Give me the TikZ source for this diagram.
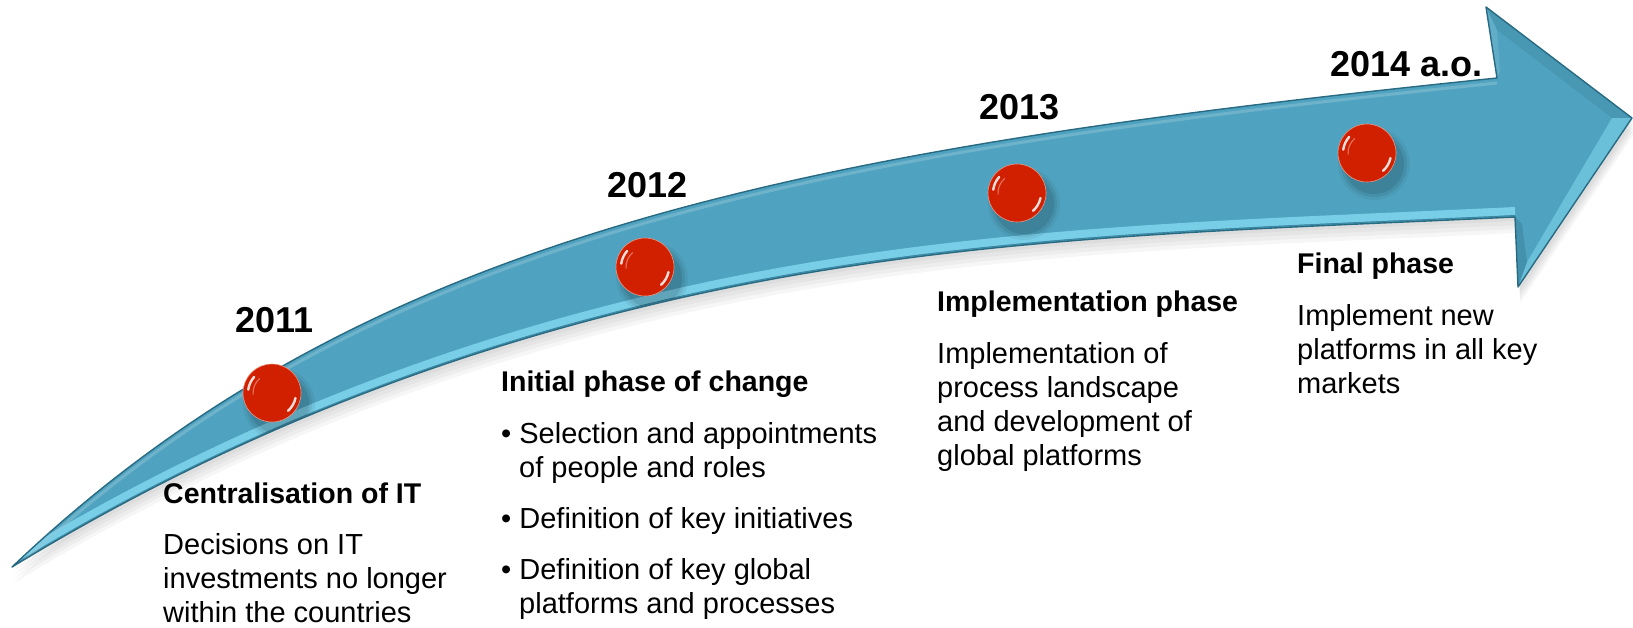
\documentclass[tikz,border=0pt]{standalone}
\usepackage{fontspec}
\setmainfont{Liberation Sans}
\definecolor{arrowmain}{RGB}{80,163,192}
\definecolor{arrowdark}{RGB}{40,106,130}
\definecolor{arrowlight}{RGB}{128,214,238}
\definecolor{ballred}{RGB}{208,32,0}
\definecolor{ballrim}{RGB}{236,150,130}
\tikzset{
  topcurve/.style={insert path={.. controls (362,234) and (795,150) .. (1497,78)}},
  botcurve/.style={insert path={.. controls (1223,231) and (940,235) .. (650,305) .. controls (437,356) and (225,437) .. (12,567)}},
  arrowpath/.style={insert path={[topcurve] -- (1486,7) -- (1632,118) -- (1518,287) -- (1515,217) [botcurve] -- cycle}},
  yearlbl/.style={font=\fontsize{36}{40}\selectfont\bfseries, anchor=base west, inner sep=0pt},
  ttl/.style={font=\fontsize{28.5}{34}\selectfont\bfseries, anchor=base west, inner sep=0pt},
  bdy/.style={font=\fontsize{29}{34}\selectfont, anchor=base west, inner sep=0pt},
  ball/.style={circle, minimum size=58pt, inner sep=0pt, fill=ballred, draw=ballrim, line width=0.6pt,
    path picture={
      \draw[white, opacity=0.85, line width=2.4pt, line cap=round]
        ([shift={(-172:24)}]path picture bounding box.center) arc (-172:-138:24);
      \draw[white, opacity=0.85, line width=2.4pt, line cap=round]
        ([shift={(12:24)}]path picture bounding box.center) arc (12:48:24);
      \draw[white, opacity=0.35, line width=1.2pt]
        ([shift={(-185:19)}]path picture bounding box.center) arc (-185:-130:19);
    }},
}
\begin{document}
\begin{tikzpicture}[x=1pt,y=-1pt]
\useasboundingbox (0,0) rectangle (1633,627);
% soft shadow under the arrow
\foreach \s in {4,8,12,16}
  \fill[black, opacity=0.035, shift={(2,\s)}] (12,567) [arrowpath];
% arrow body
\fill[arrowmain] (12,567) [arrowpath];
\begin{scope}
  \clip (12,567) [arrowpath];
  \draw[arrowlight, opacity=0.85, line width=8pt, shift={(0,-6)}] (1515,217) [botcurve];
  \draw[arrowdark, opacity=0.5, line width=1pt, shift={(0,-1.5)}] (1515,217) [botcurve];
  \draw[arrowmain!60!white, opacity=0.45, line width=3pt, shift={(0,5)}] (12,567) [topcurve];
  % head bevel
  \fill[arrowdark, opacity=0.18] (1486,7) -- (1632,118) -- (1612,118) -- (1497,30) -- cycle;
  \fill[arrowlight, opacity=0.55] (1632,118) -- (1518,287) -- (1527,262) -- (1612,118) -- cycle;
  \fill[arrowdark, opacity=0.3] (1515,217) -- (1518,287) -- (1527,262) -- (1522,224) -- cycle;
  \fill[arrowmain!80!white, opacity=0.5] (1486,7) -- (1497,30) -- (1500,72) -- (1497,78) -- cycle;
  % ball shadows
  \foreach \p in {(272,393),(645,267),(1017,193),(1367,153)}
    \foreach \r/\o in {36/0.05, 33/0.07, 30/0.09}
      \fill[black, opacity=\o] \p ++(7,11) circle (\r);
\end{scope}
\draw[arrowdark, line width=1.4pt, line join=round] (12,567) [arrowpath];
% balls
\node[ball] (b1) at (272,393) {};
\node[ball] (b2) at (645,267) {};
\node[ball] (b3) at (1017,193) {};
\node[ball] (b4) at (1367,153) {};
% years
\node[yearlbl] (y1) at (235,332) {2011};
\node[yearlbl] (y2) at (607,197) {2012};
\node[yearlbl] (y3) at (979,119) {2013};
\node[yearlbl] (y4) at (1330,76) {2014 a.o.};
% block 1
\node[ttl] (c1) at (163,503) {Centralisation of IT};
\node[bdy] (c1a) at (163,554) {Decisions on IT};
\node[bdy] (c1b) at (163,588) {investments no longer};
\node[bdy] (c1c) at (163,622) {within the countries};
% block 2
\node[ttl] (c2) at (501,391) {Initial phase of change};
\node[bdy] (c2a) at (501,443) {•~Selection and appointments};
\node[bdy] (c2b) at (519,477) {of people and roles};
\node[bdy] (c2c) at (501,528) {•~Definition of key initiatives};
\node[bdy] (c2d) at (501,579) {•~Definition of key global};
\node[bdy] (c2e) at (519,613) {platforms and processes};
% block 3
\node[ttl] (c3) at (937,311) {Implementation phase};
\node[bdy] (c3a) at (937,363) {Implementation of};
\node[bdy] (c3b) at (937,397) {process landscape};
\node[bdy] (c3c) at (937,431) {and development of};
\node[bdy] (c3d) at (937,465) {global platforms};
% block 4
\node[ttl] (c4) at (1297,273) {Final phase};
\node[bdy] (c4a) at (1297,325) {Implement new};
\node[bdy] (c4b) at (1297,359) {platforms in all key};
\node[bdy] (c4c) at (1297,393) {markets};
\end{tikzpicture}
\end{document}
